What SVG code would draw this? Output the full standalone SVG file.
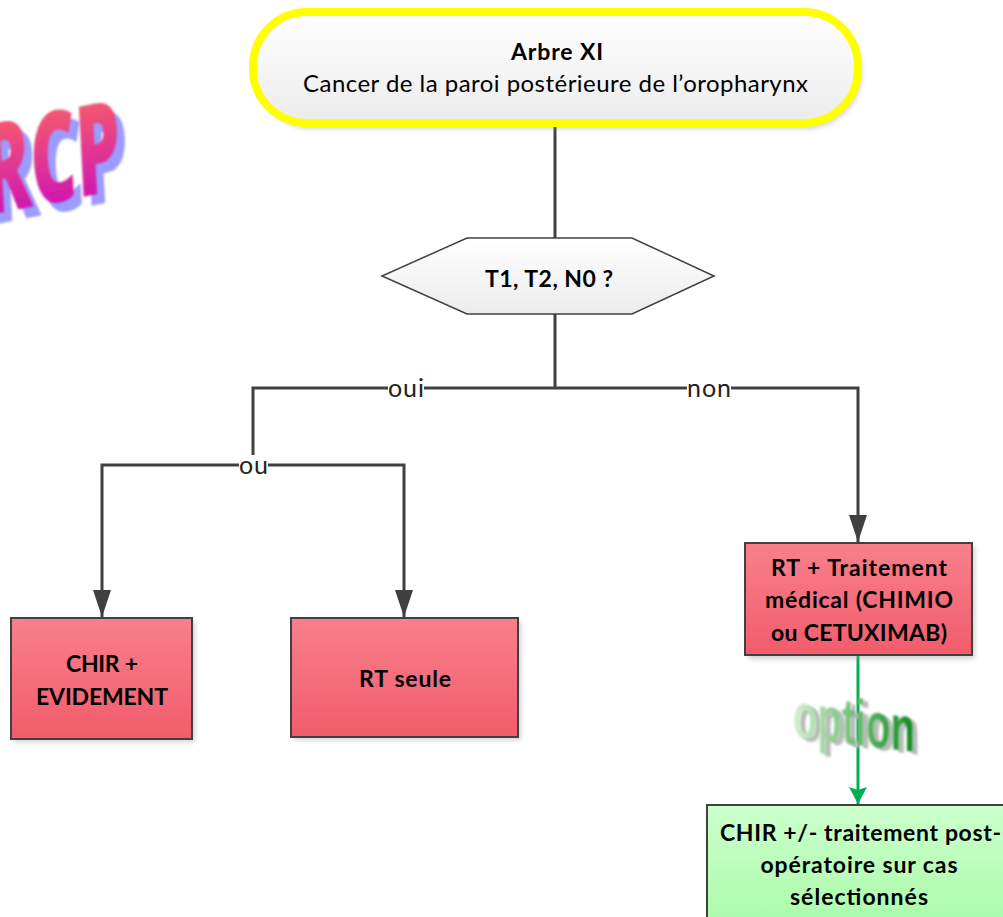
<svg xmlns="http://www.w3.org/2000/svg" width="1003" height="917" viewBox="0 0 1003 917">
<style>
text{font-family:Lato,"Liberation Sans",sans-serif;fill:#000;text-anchor:middle}
.t{font-size:23px;font-weight:700}
.r{font-size:24px}
.l{font-size:25px;fill:#222}
.box{stroke:#404040;stroke-width:2}
.red{fill:url(#red)}
.c{fill:none;stroke:#404040;stroke-width:3}
.g{fill:none;stroke:#00b050;stroke-width:3}
.lb{fill:#fff}
</style>
<defs>
<linearGradient id="red" x1="0" y1="0" x2="0" y2="1"><stop offset="0" stop-color="#f8808c"/><stop offset="1" stop-color="#f25c6b"/></linearGradient>
<linearGradient id="green" x1="0" y1="0" x2="0" y2="1"><stop offset="0" stop-color="#ccffcc"/><stop offset="1" stop-color="#a8fba8"/></linearGradient>
<linearGradient id="wh" x1="0" y1="0" x2="0" y2="1"><stop offset="0" stop-color="#ffffff"/><stop offset="1" stop-color="#ececec"/></linearGradient>
<linearGradient id="rcp" x1="0" y1="0" x2="0" y2="1"><stop offset="0.1" stop-color="#ff6a5e"/><stop offset="0.85" stop-color="#cc10b8"/></linearGradient>
<linearGradient id="opt" x1="0" y1="0" x2="1" y2="0"><stop offset="0" stop-color="#d4f0d0"/><stop offset="1" stop-color="#0c8a1c"/></linearGradient>
<filter id="sh" x="-5%" y="-5%" width="112%" height="115%"><feGaussianBlur stdDeviation="2.5"/></filter>
<filter id="soft" x="-10%" y="-10%" width="120%" height="120%"><feGaussianBlur stdDeviation="0.8"/></filter>
<marker id="a" markerUnits="userSpaceOnUse" markerWidth="28" markerHeight="20" refX="27" refY="10" orient="auto"><path d="M0 1L27 10L0 19Z" fill="#404040"/></marker>
<marker id="ag" markerUnits="userSpaceOnUse" markerWidth="18" markerHeight="18" refX="17" refY="9" orient="auto"><path d="M0 0L17 9L0 18L3 9Z" fill="#00b050"/></marker>
</defs>
<g id="logo-rcp">
<g transform="translate(8 9)" filter="url(#soft)"><text transform="rotate(-11 60 190) skewX(-8)" x="80" y="201" style="font-size:125px;font-weight:800;font-family:'Open Sans',sans-serif;fill:#9c9cff" textLength="140" lengthAdjust="spacingAndGlyphs">RCP</text></g>
<g filter="url(#soft)"><text transform="rotate(-11 60 190) skewX(-8)" x="80" y="201" style="font-size:125px;font-weight:800;font-family:'Open Sans',sans-serif;fill:url(#rcp)" textLength="140" lengthAdjust="spacingAndGlyphs">RCP</text></g>
</g>
<g id="connectors">
<path class="c" d="M555 125V238"/>
<path class="c" d="M555 314V388"/>
<path class="c" d="M555 388H253V465"/>
<path class="c" d="M555 388H858V542" marker-end="url(#a)"/>
<path class="c" d="M253 465H102V617" marker-end="url(#a)"/>
<path class="c" d="M253 465H404V617" marker-end="url(#a)"/>
<path class="g" d="M858 655V804" marker-end="url(#ag)"/>
<rect class="lb" x="388" y="378" width="36" height="22"/>
<text class="l" x="406" y="397" textLength="36" lengthAdjust="spacing">oui</text>
<rect class="lb" x="687" y="378" width="44" height="22"/>
<text class="l" x="709" y="397" textLength="44" lengthAdjust="spacing">non</text>
<rect class="lb" x="239" y="455" width="29" height="22"/>
<text class="l" x="253.500" y="474" textLength="29" lengthAdjust="spacing">ou</text>
</g>
<g id="logo-option">
<g transform="translate(798 740) skewY(7)" filter="url(#soft)"><text x="61" y="0" style="font-size:64px;font-weight:700;font-family:'Liberation Sans',sans-serif;fill:#bbb" textLength="122" lengthAdjust="spacingAndGlyphs">option</text></g>
<g transform="translate(793 737) skewY(7)" filter="url(#soft)"><text x="61" y="0" style="font-size:64px;font-weight:700;font-family:'Liberation Sans',sans-serif;fill:url(#opt)" textLength="122" lengthAdjust="spacingAndGlyphs">option</text></g>
</g>
<g id="start">
<rect x="256" y="16" width="606" height="113" rx="56" fill="#999" opacity=".4" filter="url(#sh)"/>
<rect x="253" y="12" width="605" height="111" rx="54" fill="url(#wh)" stroke="#ffff00" stroke-width="8"/>
<text class="t" x="557" y="60" textLength="92" lengthAdjust="spacing">Arbre XI</text>
<text class="r" x="555.500" y="92" textLength="505" lengthAdjust="spacing">Cancer de la paroi postérieure de l’oropharynx</text>
</g>
<g id="decision">
<path class="box" style="stroke-width:1.5;fill:url(#wh)" d="M467 238H632L714 276L632 314H467L382 276Z"/>
<text class="t" x="549" y="287" textLength="128" lengthAdjust="spacing">T1, T2, N0 ?</text>
</g>
<g id="chir">
<rect x="14" y="621" width="181" height="121" fill="#999" opacity=".45" filter="url(#sh)"/>
<rect class="box red" x="11" y="618" width="181" height="121"/>
<text class="t" x="102" y="672" textLength="72" lengthAdjust="spacing">CHIR +</text>
<text class="t" x="102" y="705" textLength="132" lengthAdjust="spacing">EVIDEMENT</text>
</g>
<g id="rt">
<rect x="294" y="621" width="227" height="119" fill="#999" opacity=".45" filter="url(#sh)"/>
<rect class="box red" x="291" y="618" width="227" height="119"/>
<text class="t" x="405" y="687" textLength="92" lengthAdjust="spacing">RT seule</text>
</g>
<g id="rt-med">
<rect x="748" y="546" width="227" height="113" fill="#999" opacity=".45" filter="url(#sh)"/>
<rect class="box red" x="745" y="543" width="227" height="112"/>
<text class="t" x="859" y="576" textLength="176" lengthAdjust="spacing">RT + Traitement</text>
<text class="t" x="859" y="608" textLength="188" lengthAdjust="spacing">médical (CHIMIO</text>
<text class="t" x="859" y="641" textLength="176" lengthAdjust="spacing">ou CETUXIMAB)</text>
</g>
<g id="chir-post">
<rect class="box" style="fill:url(#green)" x="707" y="805" width="310" height="130"/>
<text class="t" x="860.500" y="841" textLength="281" lengthAdjust="spacing">CHIR +/- traitement post-</text>
<text class="t" x="859" y="873" textLength="197" lengthAdjust="spacing">opératoire sur cas</text>
<text class="t" x="859" y="905" textLength="138" lengthAdjust="spacing">sélectionnés</text>
</g>
</svg>
